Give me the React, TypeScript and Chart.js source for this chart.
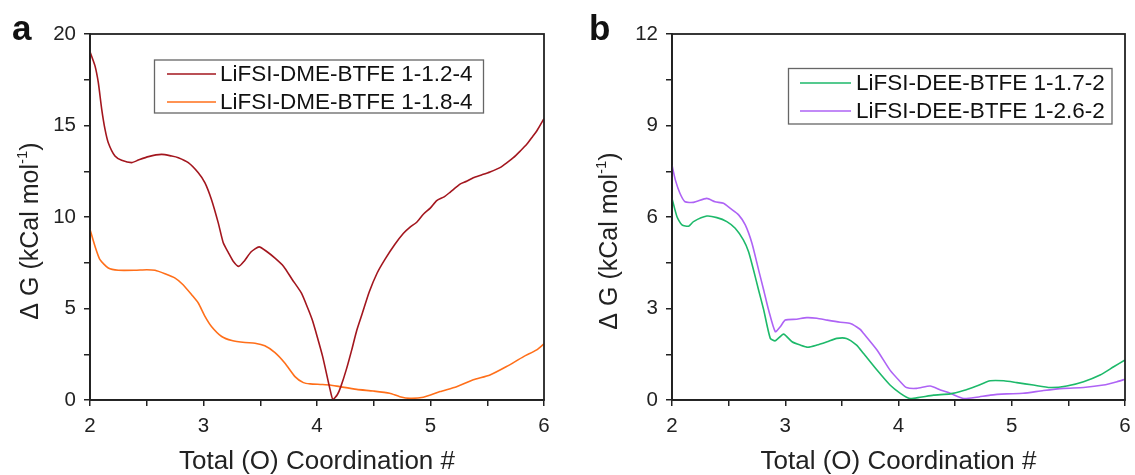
import React, { useEffect, useRef } from 'react';
import { Chart, registerables } from 'chart.js';
Chart.register(...registerables);

const FONT = '"Liberation Sans", Arial, sans-serif';

// Panel a: LiFSI-DME-BTFE
const dme12X = [2.0, 2.044, 2.073, 2.103, 2.132, 2.161, 2.22, 2.279, 2.367, 2.426, 2.515, 2.63, 2.72, 2.778, 2.866, 2.954, 3.013, 3.07, 3.13, 3.174, 3.22, 3.26, 3.31, 3.36, 3.42, 3.49, 3.56, 3.63, 3.706, 3.78, 3.863, 3.92, 3.958, 4.0, 4.05, 4.116, 4.14, 4.18, 4.21, 4.26, 4.306, 4.35, 4.4, 4.46, 4.53, 4.6, 4.685, 4.76, 4.82, 4.876, 4.937, 5.0, 5.055, 5.12, 5.172, 5.26, 5.318, 5.377, 5.45, 5.524, 5.612, 5.68, 5.73, 5.79, 5.848, 5.9, 5.936, 6.0];
const dme12Y = [19.03, 18.26, 17.35, 15.9, 14.8, 14.06, 13.33, 13.1, 12.97, 13.11, 13.3, 13.42, 13.33, 13.24, 12.97, 12.42, 11.87, 10.96, 9.68, 8.59, 8.04, 7.6, 7.3, 7.6, 8.1, 8.37, 8.1, 7.75, 7.3, 6.6, 5.84, 5.0, 4.38, 3.5, 2.37, 0.55, 0.03, 0.3, 0.73, 1.7, 2.74, 3.8, 4.75, 5.9, 6.94, 7.7, 8.5, 9.1, 9.45, 9.7, 10.15, 10.5, 10.9, 11.1, 11.35, 11.8, 11.95, 12.15, 12.3, 12.46, 12.7, 13.0, 13.24, 13.6, 13.97, 14.4, 14.7, 15.38];

const dme18X = [2.0, 2.044, 2.088, 2.161, 2.25, 2.396, 2.5, 2.573, 2.66, 2.75, 2.82, 2.896, 2.954, 3.013, 3.07, 3.16, 3.25, 3.366, 3.454, 3.54, 3.63, 3.718, 3.806, 3.88, 3.94, 4.03, 4.115, 4.2, 4.35, 4.496, 4.64, 4.73, 4.82, 4.937, 5.084, 5.23, 5.377, 5.524, 5.67, 5.82, 5.936, 6.0];
const dme18Y = [9.32, 8.4, 7.67, 7.21, 7.09, 7.09, 7.12, 7.09, 6.9, 6.66, 6.3, 5.75, 5.3, 4.57, 4.02, 3.47, 3.25, 3.14, 3.1, 2.96, 2.59, 2.01, 1.28, 0.95, 0.88, 0.85, 0.82, 0.73, 0.58, 0.49, 0.37, 0.18, 0.09, 0.15, 0.46, 0.73, 1.1, 1.37, 1.83, 2.37, 2.74, 3.07];

// Panel b: LiFSI-DEE-BTFE
const dee17X = [2.0, 2.044, 2.088, 2.147, 2.19, 2.307, 2.396, 2.484, 2.558, 2.63, 2.676, 2.72, 2.765, 2.81, 2.868, 2.912, 2.985, 3.06, 3.133, 3.2, 3.28, 3.37, 3.455, 3.54, 3.63, 3.69, 3.81, 3.925, 4.016, 4.1, 4.19, 4.31, 4.457, 4.575, 4.69, 4.81, 4.93, 5.045, 5.19, 5.34, 5.486, 5.634, 5.78, 5.9, 6.0];
const dee17Y = [6.61, 6.01, 5.74, 5.7, 5.85, 6.03, 5.98, 5.85, 5.63, 5.25, 4.86, 4.26, 3.6, 2.95, 2.02, 1.94, 2.16, 1.91, 1.8, 1.73, 1.8, 1.91, 2.02, 2.02, 1.8, 1.53, 0.98, 0.49, 0.22, 0.05, 0.09, 0.16, 0.2, 0.31, 0.46, 0.63, 0.63, 0.57, 0.49, 0.41, 0.46, 0.6, 0.82, 1.09, 1.31];

const dee26X = [2.0, 2.03, 2.07, 2.115, 2.19, 2.307, 2.38, 2.455, 2.515, 2.588, 2.647, 2.706, 2.765, 2.81, 2.853, 2.912, 2.956, 3.0, 3.1, 3.19, 3.28, 3.37, 3.486, 3.575, 3.66, 3.69, 3.81, 3.925, 4.016, 4.07, 4.16, 4.28, 4.37, 4.457, 4.575, 4.69, 4.81, 4.955, 5.1, 5.28, 5.457, 5.634, 5.81, 5.93, 6.0];
const dee26Y = [7.7, 7.21, 6.78, 6.5, 6.48, 6.61, 6.5, 6.45, 6.28, 6.07, 5.74, 5.14, 4.26, 3.6, 2.95, 2.24, 2.4, 2.62, 2.65, 2.7, 2.68, 2.62, 2.55, 2.51, 2.32, 2.19, 1.64, 0.98, 0.6, 0.41, 0.38, 0.46, 0.33, 0.22, 0.05, 0.09, 0.16, 0.2, 0.22, 0.31, 0.38, 0.41, 0.49, 0.6, 0.68];

const labelsA = ['LiFSI-DME-BTFE 1-1.2-4', 'LiFSI-DME-BTFE 1-1.8-4'];
const labelsB = ['LiFSI-DEE-BTFE 1-1.7-2', 'LiFSI-DEE-BTFE 1-2.6-2'];
const colorsA = ['#A3161E', '#FF6F1A'];
const colorsB = ['#1DB96A', '#AE63F5'];

const xTitle = 'Total (O) Coordination #';

const pts = (xs: number[], ys: number[]) => xs.map((x, i) => ({ x, y: ys[i] }));

type PanelProps = {
  left: number;
  width: number;
  plotLeft: number;
  padRight: number;
  yMax: number;
  yStep: number;
  yMajor: number;
  letter: string;
  letterX: number;
  yTitleX: number;
  yTitleY: number;
  series: { label: string; color: string; xs: number[]; ys: number[] }[];
  legend: { x: number; y: number; w: number; h: number; rows: number[]; l1: number; l2: number; tx: number };
};

function Panel(p: PanelProps) {
  const ref = useRef<HTMLCanvasElement>(null);
  useEffect(() => {
    const canvas = ref.current!;
    const frame = {
      id: 'frame',
      afterDraw(chart: any) {
        const ctx = chart.ctx as CanvasRenderingContext2D;
        const a = chart.chartArea;
        ctx.save();
        ctx.strokeStyle = '#222';
        ctx.lineWidth = 1.8;
        ctx.strokeRect(a.left, a.top, a.right - a.left, a.bottom - a.top);
        // panel letter
        ctx.fillStyle = '#111';
        ctx.font = `bold 35px ${FONT}`;
        ctx.textBaseline = 'alphabetic';
        ctx.textAlign = 'left';
        ctx.fillText(p.letter, p.letterX, 40);
        // x title
        ctx.fillStyle = '#222';
        ctx.font = `26px ${FONT}`;
        ctx.textAlign = 'center';
        ctx.textBaseline = 'middle';
        ctx.fillText(xTitle, (a.left + a.right) / 2, 462);
        // y title with superscript
        ctx.save();
        ctx.translate(p.yTitleX, p.yTitleY);
        ctx.rotate(-Math.PI / 2);
        const main = 'Δ G (kCal mol';
        const sup = '-1';
        const close = ')';
        ctx.font = `25px ${FONT}`;
        const wMain = ctx.measureText(main).width;
        const wClose = ctx.measureText(close).width;
        ctx.font = `15px ${FONT}`;
        const wSup = ctx.measureText(sup).width;
        const total = wMain + wSup + wClose;
        let x0 = -total / 2;
        ctx.textAlign = 'left';
        ctx.textBaseline = 'middle';
        ctx.font = `25px ${FONT}`;
        ctx.fillText(main, x0, 0);
        x0 += wMain;
        ctx.font = `15px ${FONT}`;
        ctx.fillText(sup, x0, -8);
        x0 += wSup;
        ctx.font = `25px ${FONT}`;
        ctx.fillText(close, x0, 0);
        ctx.restore();
        // legend
        const L = p.legend;
        ctx.strokeStyle = '#666';
        ctx.lineWidth = 1.3;
        ctx.strokeRect(L.x, L.y, L.w, L.h);
        ctx.font = `22.5px ${FONT}`;
        ctx.textAlign = 'left';
        ctx.textBaseline = 'middle';
        p.series.forEach((s, i) => {
          ctx.strokeStyle = s.color;
          ctx.lineWidth = 1.6;
          ctx.beginPath();
          ctx.moveTo(L.l1, L.rows[i]);
          ctx.lineTo(L.l2, L.rows[i]);
          ctx.stroke();
          ctx.fillStyle = '#111';
          ctx.fillText(s.label, L.tx, L.rows[i] + 1);
        });
        ctx.restore();
      },
    };
    const chart = new Chart(canvas, {
      type: 'line',
      data: {
        datasets: p.series.map((s) => ({
          label: s.label,
          data: pts(s.xs, s.ys),
          borderColor: s.color,
          backgroundColor: s.color,
          borderWidth: 1.6,
          pointRadius: 0,
          tension: 0.2,
          fill: false,
        })),
      },
      options: {
        responsive: false,
        animation: false,
        devicePixelRatio: 1,
        layout: { padding: { left: 0, right: p.padRight, top: 34, bottom: 0 } },
        plugins: { legend: { display: false }, tooltip: { enabled: false } },
        scales: {
          x: {
            type: 'linear',
            min: 2,
            max: 6,
            afterFit: (s: any) => {
              s.height = 75;
              s.paddingLeft = 0;
              s.paddingRight = 0;
            },
            border: { display: true, color: '#222', width: 1.8 },
            grid: { drawOnChartArea: false, drawTicks: true, tickLength: 6, color: '#222', lineWidth: 1.5 },
            ticks: {
              stepSize: 0.5,
              autoSkip: false,
              maxRotation: 0,
              padding: 8,
              color: '#222',
              font: { family: FONT, size: 20.5 },
              callback: (v: any) => (Math.abs(v - Math.round(v)) < 1e-6 ? String(Math.round(v)) : ''),
            },
          },
          y: {
            type: 'linear',
            min: 0,
            max: p.yMax,
            afterFit: (s: any) => {
              s.width = p.plotLeft;
              s.paddingTop = 0;
              s.paddingBottom = 0;
            },
            border: { display: true, color: '#222', width: 1.8 },
            grid: { drawOnChartArea: false, drawTicks: true, tickLength: 6, color: '#222', lineWidth: 1.5 },
            ticks: {
              stepSize: p.yStep,
              autoSkip: false,
              padding: 8,
              color: '#222',
              font: { family: FONT, size: 20.5 },
              callback: (v: any) => {
                const r = v / p.yMajor;
                return Math.abs(r - Math.round(r)) < 1e-6 ? String(Math.round(v)) : '';
              },
            },
          },
        },
      },
      plugins: [frame],
    });
    return () => chart.destroy();
  }, []);
  return (
    <canvas
      ref={ref}
      width={p.width}
      height={475}
      style={{ position: 'absolute', left: p.left, top: 0, width: p.width, height: 475 }}
    />
  );
}

export default function App() {
  return (
    <div style={{ position: 'absolute', left: 0, top: 0, width: 1135, height: 475, background: '#fff' }}>
      <Panel
        left={0}
        width={567}
        plotLeft={90}
        padRight={23}
        yMax={20}
        yStep={2.5}
        yMajor={5}
        letter="a"
        letterX={12}
        yTitleX={31}
        yTitleY={231}
        series={[
          { label: labelsA[0], color: colorsA[0], xs: dme12X, ys: dme12Y },
          { label: labelsA[1], color: colorsA[1], xs: dme18X, ys: dme18Y },
        ]}
        legend={{ x: 154.5, y: 60, w: 329, h: 53, rows: [74, 102], l1: 167, l2: 216, tx: 220 }}
      />
      <Panel
        left={567}
        width={568}
        plotLeft={105}
        padRight={10}
        yMax={12}
        yStep={1.5}
        yMajor={3}
        letter="b"
        letterX={22}
        yTitleX={43}
        yTitleY={241}
        series={[
          { label: labelsB[0], color: colorsB[0], xs: dee17X, ys: dee17Y },
          { label: labelsB[1], color: colorsB[1], xs: dee26X, ys: dee26Y },
        ]}
        legend={{ x: 221.5, y: 68.5, w: 323.5, h: 55.5, rows: [83, 111], l1: 233, l2: 284, tx: 289 }}
      />
    </div>
  );
}
